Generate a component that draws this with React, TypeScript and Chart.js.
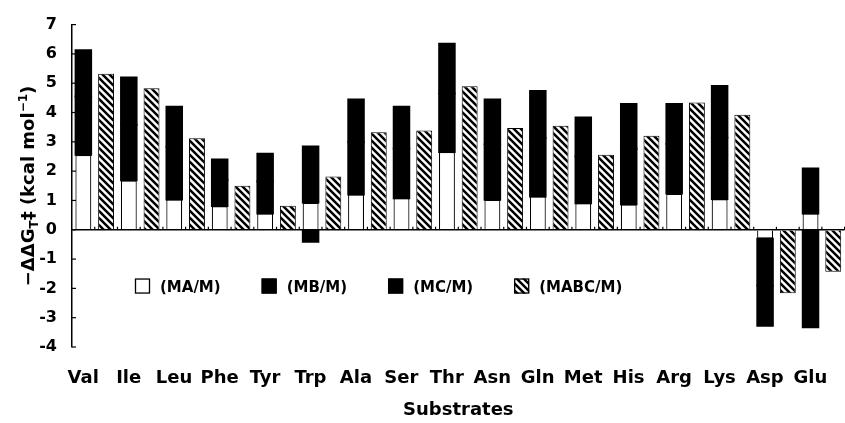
import React, { useEffect, useRef } from 'react';
import { Chart, registerables } from 'chart.js';

Chart.register(...registerables);

const substrates = ['Val', 'Ile', 'Leu', 'Phe', 'Tyr', 'Trp', 'Ala', 'Ser', 'Thr', 'Asn', 'Gln', 'Met', 'His', 'Arg', 'Lys', 'Asp', 'Glu'];
const maM = [2.55, 1.68, 1.03, 0.8, 0.55, 0.92, 1.2, 1.07, 2.65, 1.02, 1.13, 0.9, 0.86, 1.23, 1.04, -0.3, 0.55];
const mbM = [2.0, 1.9, 1.8, 0.9, 1.1, 1.93, 1.8, 1.7, 2.0, 1.9, 2.0, 1.6, 1.9, 1.7, 2.1, -1.6, 1.55];
const mcM = [1.58, 1.62, 1.37, 0.7, 0.95, -0.42, 1.45, 1.43, 1.7, 1.53, 1.61, 1.34, 1.54, 1.37, 1.77, -1.38, -3.33];
const mabcM = [5.32, 4.83, 3.12, 1.5, 0.82, 1.82, 3.33, 3.39, 4.9, 3.47, 3.55, 2.56, 3.21, 4.34, 3.92, -2.17, -1.43];
const yMin = -4;
const yMax = 7;
const yStep = 1;
const legendLabels = ['(MA/M)', '(MB/M)', '(MC/M)', '(MABC/M)'];
const xTitle = 'Substrates';

const FONT = '"DejaVu Sans", "Liberation Sans", sans-serif';

function makeHatch(): CanvasPattern | string {
  const p = 7;
  const c = document.createElement('canvas');
  c.width = p;
  c.height = p;
  const g = c.getContext('2d');
  if (!g) return '#888';
  g.fillStyle = '#fff';
  g.fillRect(0, 0, p, p);
  g.strokeStyle = '#000';
  g.lineWidth = 2.5;
  g.beginPath();
  g.moveTo(-1, -1);
  g.lineTo(p + 1, p + 1);
  g.moveTo(-1, p - 1);
  g.lineTo(1, p + 1);
  g.moveTo(p - 1, -1);
  g.lineTo(p + 1, 1);
  g.stroke();
  return g.createPattern(c, 'repeat') || '#888';
}

export default function App() {
  const ref = useRef<HTMLCanvasElement>(null);

  useEffect(() => {
    if (!ref.current) return;
    const hatch = makeHatch();
    const fills: any[] = ['#fff', '#000', '#000', hatch];

    const decor = {
      id: 'decor',
      afterDraw(chart: any) {
        const { ctx, chartArea, scales } = chart;
        const ys = scales.y;
        ctx.save();
        ctx.strokeStyle = '#000';
        ctx.lineWidth = 1.2;
        ys.ticks.forEach((t: any) => {
          const py = ys.getPixelForValue(t.value);
          ctx.beginPath();
          ctx.moveTo(chartArea.left, py);
          ctx.lineTo(chartArea.left + 4, py);
          ctx.stroke();
        });
        const y0 = ys.getPixelForValue(0);
        const n = substrates.length;
        const cw = (chartArea.right - chartArea.left) / n;
        for (let i = 1; i <= 2 * n; i++) {
          const px = chartArea.left + (i * cw) / 2;
          ctx.beginPath();
          ctx.moveTo(px, y0);
          ctx.lineTo(px, y0 - 3);
          ctx.stroke();
        }
        const ly = ys.getPixelForValue(-1.92);
        let lx = chartArea.left + 63;
        ctx.font = `bold 15px ${FONT}`;
        ctx.textBaseline = 'middle';
        ctx.textAlign = 'left';
        legendLabels.forEach((lab, i) => {
          ctx.fillStyle = fills[i];
          ctx.fillRect(lx, ly - 7.5, 15, 15);
          ctx.lineWidth = 1.3;
          ctx.strokeStyle = '#000';
          ctx.strokeRect(lx + 0.5, ly - 7, 14, 14);
          ctx.fillStyle = '#000';
          ctx.fillText(lab, lx + 25, ly + 2);
          lx += 25 + ctx.measureText(lab).width + 41;
        });
        const big = `bold 18px ${FONT}`;
        const small = `bold 12px ${FONT}`;
        const segs = [
          { t: '\u2212\u0394\u0394G', f: big, dy: 0 },
          { t: 'T', f: small, dy: 4 },
          { t: '\u2021 (kcal mol', f: big, dy: 0 },
          { t: '\u22121', f: small, dy: -7 },
          { t: ')', f: big, dy: 0 },
        ];
        let total = 0;
        segs.forEach((s) => {
          ctx.font = s.f;
          total += ctx.measureText(s.t).width;
        });
        ctx.translate(27, 186);
        ctx.rotate(-Math.PI / 2);
        ctx.textBaseline = 'alphabetic';
        ctx.fillStyle = '#000';
        let x = -total / 2;
        segs.forEach((s) => {
          ctx.font = s.f;
          ctx.fillText(s.t, x, 6.5 + s.dy);
          x += ctx.measureText(s.t).width;
        });
        ctx.restore();
      },
    };

    const chart = new Chart(ref.current, {
      type: 'bar',
      data: {
        labels: substrates,
        datasets: [
          { label: legendLabels[0], data: maM, stack: 's', backgroundColor: '#fff', borderColor: '#000', borderWidth: 1.2 },
          { label: legendLabels[1], data: mbM, stack: 's', backgroundColor: '#000', borderColor: '#000', borderWidth: 0, inflateAmount: 0.8 },
          { label: legendLabels[2], data: mcM, stack: 's', backgroundColor: '#000', borderColor: '#000', borderWidth: 0, inflateAmount: 0.8 },
          { label: legendLabels[3], data: mabcM, stack: 'h', backgroundColor: hatch as any, borderColor: '#000', borderWidth: 1 },
        ],
      },
      options: {
        responsive: false,
        animation: false,
        color: '#000',
        datasets: { bar: { barPercentage: 0.7, categoryPercentage: 1.0 } },
        layout: { padding: { top: 24, right: 8, left: 0, bottom: 0 } },
        plugins: { legend: { display: false }, tooltip: { enabled: false } },
        scales: {
          x: {
            stacked: true,
            grid: { display: false, drawTicks: false },
            border: { display: false },
            ticks: {
              color: '#000',
              font: { family: FONT, size: 18, weight: 'bold' },
              padding: 21,
              labelOffset: -11.5,
              maxRotation: 0,
              autoSkip: false,
            },
            title: {
              display: true,
              text: xTitle,
              color: '#000',
              font: { family: FONT, size: 18, weight: 'bold' },
              padding: { top: 0, bottom: 2 },
            },
            afterFit: (s: any) => {
              s.height = 76;
            },
          },
          y: {
            stacked: true,
            min: yMin,
            max: yMax,
            ticks: {
              stepSize: yStep,
              color: '#000',
              font: { family: FONT, size: 16, weight: 'bold' },
              padding: 15,
            },
            grid: {
              drawTicks: false,
              color: (c: any) => (c.tick && c.tick.value === 0 ? '#000' : 'rgba(0,0,0,0)'),
              lineWidth: 1.5,
            },
            border: { display: true, color: '#000', width: 1.5 },
            afterFit: (s: any) => {
              s.width = 72;
            },
          },
        },
      },
      plugins: [decor],
    } as any);

    return () => chart.destroy();
  }, []);

  return (
    <div style={{ position: 'fixed', left: 0, top: 0, width: 845, height: 423, overflow: 'hidden', background: '#fff' }}>
      <canvas ref={ref} width={860} height={423} style={{ display: 'block', width: 860, height: 423 }} />
    </div>
  );
}
